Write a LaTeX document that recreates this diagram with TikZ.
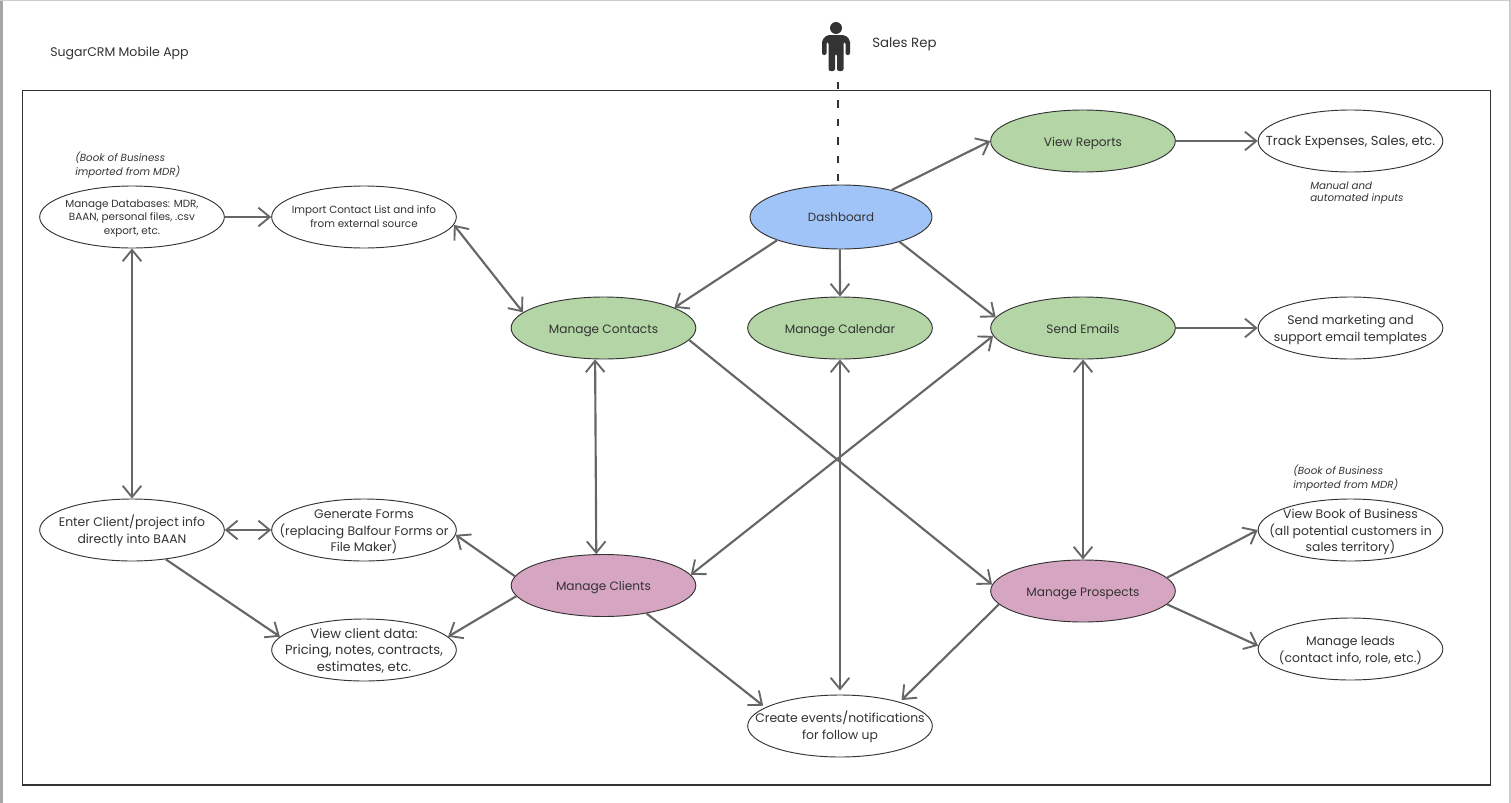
\documentclass[tikz,border=0pt]{standalone}
\usepackage{fontspec}
\setmainfont{Poppins}
\usepackage{tikz}
\usetikzlibrary{arrows.meta,shapes.geometric}
\definecolor{linegray}{HTML}{666666}
\definecolor{inkgray}{HTML}{333333}
\definecolor{dashblue}{HTML}{A0C4F8}
\definecolor{taskgreen}{HTML}{B4D5A5}
\definecolor{rolepink}{HTML}{D6A5C2}
\newcommand{\lbl}[2][-3.5pt]{\raisebox{#1}[0pt][0pt]{\makebox[0pt][c]{\begin{tabular}{@{}c@{}}#2\end{tabular}}}}
\newcommand{\fnt}[2]{\fontsize{#1}{#2}\selectfont}

\begin{document}
\begin{tikzpicture}[x=0.75pt,y=-0.75pt,>={Straight Barb[length=8.5pt,width=14pt,line width=1.4pt]}]
                \tikzstyle{every node}=[text=inkgray]
                \tikzstyle{oval}=[ellipse,draw=inkgray,line width=0.7pt,fill=white,minimum width=138.5pt,minimum height=46.5pt,inner sep=0pt]
                \tikzstyle{top oval}=[oval,fill=dashblue,minimum width=136.5pt,minimum height=48pt,font=\fnt{8.9}{11}]
                \tikzstyle{task oval}=[oval,fill=taskgreen,font=\fnt{9.1}{11}]
                \tikzstyle{role oval}=[oval,fill=rolepink,font=\fnt{9.1}{11}]
                \tikzstyle{wide oval}=[oval,font=\fnt{9.8}{12.5}]
                \tikzstyle{big oval}=[oval,font=\fnt{9.3}{12.5}]
                \tikzstyle{small oval}=[oval,font=\fnt{7.8}{10.2}]
                \tikzstyle{link}=[draw=linegray,line width=1.6pt]
                \tikzstyle{note}=[anchor=west,inner sep=0pt,font=\fnt{7.7}{9}\itshape]
                \tikzstyle{caption}=[anchor=west,inner sep=0pt,font=\fnt{9.4}{11}]

                \useasboundingbox (0,0) rectangle (1511,803);

                % Sheet edges and the frame
                \fill[gray!70] (0,0) rectangle (3,803);
                \fill[gray!40] (0,0) rectangle (1511,1.5);
                \fill[gray!40] (1509,0) rectangle (1510.5,803);
                \draw[inkgray,line width=0.6pt] (22,90) rectangle (1490.5,785);
                \draw[inkgray,line width=1.2pt] (22,785) -- (1490.5,785);

                % Draw the sales rep
                \fill[inkgray] (836,28) circle (6);
                \fill[inkgray,rounded corners=1.5pt] (822,55) -- (822,40) -- (827,35) -- (845,35) -- (850,40) -- (850,55)
                    -- (845.5,55) -- (845.5,42) -- (843.5,42) -- (843.5,71) -- (837,71) -- (837,54) -- (835,54) -- (835,71)
                    -- (828.5,71) -- (828.5,42) -- (826.5,42) -- (826.5,55) -- cycle;
                \coordinate (rep) at (838,82);

                % Free texts
                \node[caption] (title) at (50,53) {SugarCRM Mobile App};
                \node[caption,font=\fnt{10}{11}] (repname) at (872,44) {Sales Rep};
                \node[note] (noteA1) at (75,158) {(Book of Business};
                \node[note] (noteA2) at (75,172) {imported from MDR)};
                \node[note] (noteB1) at (1293,471) {(Book of Business};
                \node[note] (noteB2) at (1293,485) {imported from MDR)};
                \node[note] (noteC1) at (1310,186) {Manual and};
                \node[note] (noteC2) at (1310,199) {automated inputs};

                % Draw the coloured nodes
                \node[top oval] (dash) at (841,217) {\lbl[-3.7pt]{Dashboard}};
                \foreach \name / \x / \y / \txt in {view/1083/141/View Reports,contacts/603.5/328/Manage Contacts,calendar/840/328/Manage Calendar,emails/1083/328/Send Emails}
                    \node[task oval] (\name) at (\x,\y) {\lbl[-3.9pt]{\txt}};
                \foreach \name / \x / \y / \txt in {clients/603.5/585.5/Manage Clients,prospects/1083/591/Manage Prospects}
                    \node[role oval] (\name) at (\x,\y) {\lbl[-3.9pt]{\txt}};

                % Draw the white nodes
                \foreach \name / \x / \y / \txt in {marketing/1350.5/328/{Send marketing and\\support email templates},book/1350.5/530/{View Book of Business\\(all potential customers in\\sales territory)},leads/1350.5/649/{Manage leads\\(contact info, role, etc.)},enter/132/530/{Enter Client/project info\\directly into BAAN},forms/364/530/{Generate Forms\\(replacing Balfour Forms or\\File Maker)},events/840/726/{Create events/notifications\\for follow up}}
                    \node[big oval] (\name) at (\x,\y) {\lbl{\txt}};
                \foreach \name / \x / \y / \txt in {track/1350.5/141/{Track Expenses, Sales, etc.},data/364/650/{View client data:\\Pricing, notes, contracts,\\estimates, etc.}}
                    \node[wide oval] (\name) at (\x,\y) {\lbl{\txt}};
                \foreach \name / \x / \y / \txt in {bases/132/217/{Manage Databases: MDR,\\BAAN, personal files, .csv\\export, etc.},import/364/217/{Import Contact List and info\\from external source}}
                    \node[small oval] (\name) at (\x,\y) {\lbl[-2.8pt]{\txt}};

                % Sales rep to the dashboard
                \draw[inkgray,line width=1pt,dash pattern=on 5.6pt off 8.2pt] (rep) -- (rep |- dash.north);

                % One way links
                \foreach \source / \dest in {dash.28/view.west,view.east/track.west,dash.200/contacts.16,dash.268/calendar.north,dash.337/emails.173,emails.east/marketing.west,contacts.352/prospects.176,prospects.9/book.west,prospects.351/leads.178,clients.174/forms.357,clients.187/data.9,bases.east/import.west,enter.319/data.171}
                    \path (\source) edge[link,->] (\dest);

                % These stop short of the events node
                \foreach \source / \dest in {prospects.189/events.22,clients.327/events.166}
                    \path (\source) edge[link,->,shorten >=2pt] (\dest);

                % Links with two heads
                \foreach \source / \dest in {import.355/contacts.169,contacts.255/clients.103,emails.185/clients.7,emails.south/prospects.north,bases.south/enter.north,enter.east/forms.west}
                    \path (\source) edge[link,<->] (\dest);
                \path (calendar.south) edge[link,<->,shorten >=3pt] (events.north);
            \end{tikzpicture}
\end{document}
